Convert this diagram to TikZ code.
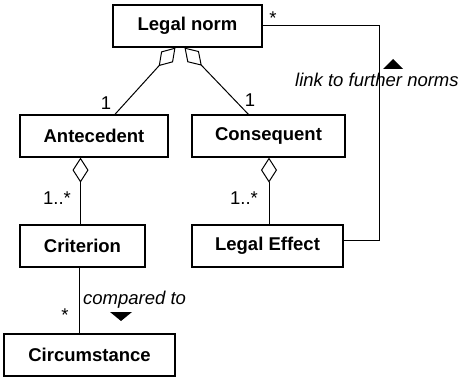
\documentclass[tikz,border=0pt]{standalone}
\usepackage{fontspec}
\setmainfont{Liberation Sans}
\usetikzlibrary{calc,arrows.meta,positioning}

\begin{document}
\begin{tikzpicture}[x=1pt,y=-1pt]
          %% UML MODEL

          \tikzstyle{every node}=[font=\fontsize{18.5}{22}\selectfont]
          \tikzstyle{class}=[draw,line width=1.2pt,minimum height=42pt,inner sep=0pt,font=\fontsize{18.5}{22}\selectfont\bfseries]
          \tikzstyle{agg}=[line width=1pt,{Diamond[open,length=25pt,width=16pt,line width=1pt]}-]
          \tikzstyle{assoc}=[line width=1pt]
          \tikzstyle{mult}=[inner sep=0pt,anchor=base]
          \tikzstyle{role}=[inner sep=0pt,anchor=base west,font=\fontsize{18.5}{22}\selectfont\itshape]

          \useasboundingbox (0,0) rectangle (461,377);

          % classes
          \node[class,minimum width=149pt] (norm) at (187.5,26) {Legal norm};
          \node[class,minimum width=148pt] (ante) at (94,136) {Antecedent};
          \node[class,minimum width=153pt] (cons) at (268.5,136) {Consequent};
          \node[class,minimum width=125pt] (crit) at (82.5,246) {Criterion};
          \node[class,minimum width=151pt] (eff) at (267.5,246) {Legal Effect};
          \node[class,minimum width=171pt] (circ) at (89.5,355) {Circumstance};

          % aggregations
          \draw[agg] ($(norm.south west)!0.42!(norm.south east)$) -- ($(ante.north west)!0.64!(ante.north east)$);
          \draw[agg] ($(norm.south west)!0.48!(norm.south east)$) -- ($(cons.north west)!0.37!(cons.north east)$);
          \draw[agg] ([xshift=-13.5pt]ante.south) -- ([xshift=-2pt]crit.north);
          \draw[agg] ([xshift=0.5pt]cons.south) -- ([xshift=1.5pt]eff.north);

          % associations
          \coordinate (bend) at (379,26);
          \draw[assoc] ([yshift=5pt]eff.east) -| (bend) -- (norm.east);
          \draw[assoc] ([xshift=-3.5pt]crit.south) -- ([xshift=-10.5pt]circ.north);

          % multiplicities
          \node[mult] (m1) at (106,110) {1};
          \node[mult] (m2) at (250,107) {1};
          \node[mult] (m3) at (57,205) {1..*};
          \node[mult] (m4) at (244,205) {1..*};
          \node[mult] (m5) at (273,25) {*};
          \node[mult] (m6) at (65,321) {*};

          % role names
          \node[role] (lnk) at (295,87) {link to further norms};
          \node[role] (cmp) at (83,305) {compared to};
          \coordinate (upmark) at (393,59);
          \coordinate (downmark) at (121,321);
          \fill (upmark) -- ++(10,10) -- ++(-20,0) -- cycle;
          \fill (downmark) -- ++(11,-9) -- ++(-22,0) -- cycle;
\end{tikzpicture}
\end{document}
